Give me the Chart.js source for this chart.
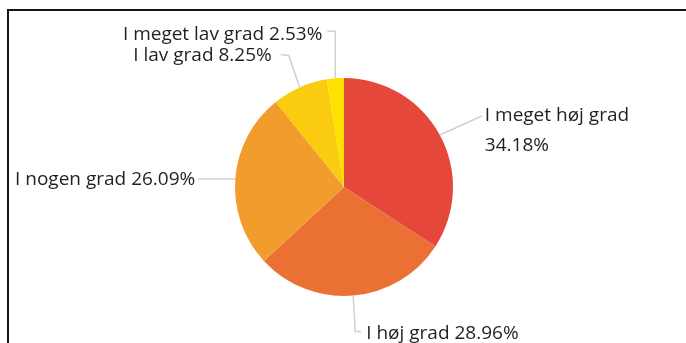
<!DOCTYPE html>
<html><head><meta charset="utf-8">
<script src="https://cdn.jsdelivr.net/npm/chart.js@4/dist/chart.umd.min.js"></script>
<style>
html,body{margin:0;padding:0;background:#fff;overflow:hidden;width:686px;height:343px}
canvas{position:absolute;left:0;top:0}
#frame{position:absolute;left:7px;top:9px;width:700px;height:400px;border-top:2px solid #151515;border-left:2px solid #151515;pointer-events:none}
</style></head><body>
<canvas id="c" width="686" height="343"></canvas><div id="frame"></div>
<script>
const categories = ['I meget høj grad', 'I høj grad', 'I nogen grad', 'I lav grad', 'I meget lav grad'];
const values = [34.18, 28.96, 26.09, 8.25, 2.53];
const valueLabels = ['34.18%', '28.96%', '26.09%', '8.25%', '2.53%'];
const sliceColors = ['#E5473A', '#EA7034', '#F29C2D', '#FBCB10', '#FFE100'];

// leader line layout, relative to the slice's outer edge at its mid angle
const leaderLayout = [
  {pts: [[42, -19]], tx: 3, ty: 5, align: 'left', twoLines: true},
  {pts: [[2, 36], [8, 36]], tx: 5, ty: 7, align: 'left'},
  {pts: [[-37, 0]], tx: -3, ty: 6, align: 'right'},
  {pts: [[-11, -32], [-19, -33]], tx: -9, ty: 7, align: 'right'},
  {pts: [[0, -47], [-8, -47]], tx: -5, ty: 8.5, align: 'right'}
];

const leaderLabels = {
  id: 'leaderLabels',
  afterDatasetsDraw(chart, args, opts) {
    const ctx = chart.ctx;
    const meta = chart.getDatasetMeta(0);
    ctx.save();
    meta.data.forEach((arc, i) => {
      const p = arc.getProps(['x', 'y', 'startAngle', 'endAngle', 'outerRadius'], true);
      const mid = (p.startAngle + p.endAngle) / 2;
      const ex = p.x + Math.cos(mid) * p.outerRadius;
      const ey = p.y + Math.sin(mid) * p.outerRadius;
      const L = opts.layout[i];
      ctx.strokeStyle = '#d0d0d0';
      ctx.lineWidth = 1.5;
      ctx.beginPath();
      ctx.moveTo(ex, ey);
      let lx = ex, ly = ey;
      L.pts.forEach(([dx, dy]) => { lx = ex + dx; ly = ey + dy; ctx.lineTo(lx, ly); });
      ctx.stroke();
      ctx.fillStyle = '#231f20';
      ctx.font = '19px "Open Sans", "Noto Sans", sans-serif';
      ctx.textAlign = L.align;
      ctx.textBaseline = 'alphabetic';
      const tx = lx + L.tx, ty = ly + L.ty;
      if (L.twoLines) {
        ctx.fillText(categories[i], tx, ty);
        ctx.fillText(valueLabels[i], tx, ty + 30);
      } else {
        ctx.fillText(categories[i] + ' ' + valueLabels[i], tx, ty);
      }
    });
    ctx.restore();
  }
};

new Chart(document.getElementById('c'), {
  type: 'pie',
  data: {
    labels: categories,
    datasets: [{data: values, backgroundColor: sliceColors, borderWidth: 0}]
  },
  options: {
    responsive: false,
    animation: false,
    layout: {padding: {top: 78, bottom: 47, left: 235, right: 233}},
    plugins: {
      legend: {display: false},
      tooltip: {enabled: false},
      leaderLabels: {layout: leaderLayout}
    }
  },
  plugins: [leaderLabels]
});
</script>
</body></html>
